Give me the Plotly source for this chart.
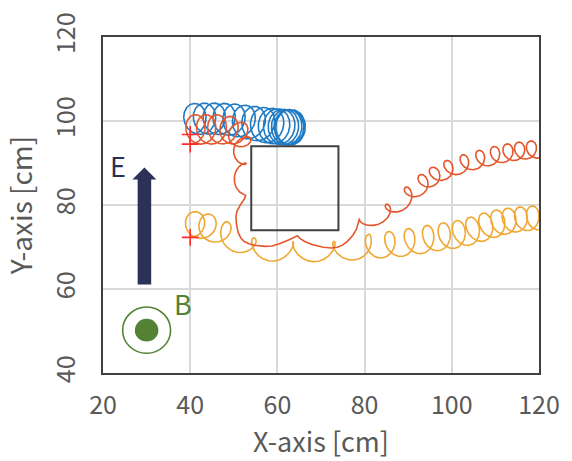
import numpy as np
import plotly.graph_objects as go

# ---------------- data ----------------
# Guiding-centre waypoints [cm] of each trajectory, the gyration radii there
# (rn: across the drift, rt: along the drift) and the number of gyrations
# completed when the guiding centre reaches that waypoint (counted loops/cusps).
blue_gx = [40, 41.1, 45.5, 50, 54.5, 58.6, 61, 62.5, 63.2]
blue_gy = [100.4, 100.5, 100.6, 100.3, 99.5, 98.8, 98.6, 98.5, 98.5]
blue_rn = [3.7, 3.7, 3.7, 3.8, 4.0, 4.2, 4.2, 4.2, 4.2]
blue_rt = [3.1, 3.1, 3.1, 3.1, 3.2, 3.3, 3.3, 3.3, 3.3]
blue_turns = [0, 0.5, 2.5, 4.5, 6.5, 8.5, 10.5, 12.5, 14.5]

red_gx = [40, 41.2, 46.1, 48.9, 51.0, 51.9, 51.5, 51.35, 51.5, 53.0, 57.0, 64.5, 73.5, 79.6,
          86.0, 90.6, 93.8, 96.2, 99.4, 103.1, 106.7, 110.1, 113.0, 115.6, 118.3, 121.0]
red_gy = [98, 98, 98, 97.9, 97.4, 95.5, 90, 82.5, 77.0, 72.6, 71.4, 71.3, 71.2, 75.5,
          78.6, 82.8, 85.6, 87.2, 88.7, 90.0, 91.0, 91.9, 92.5, 92.9, 93.2, 93.3]
red_rn = [3.5, 3.5, 3.5, 3.3, 2.9, 2.2, 1.3, 1.35, 1.5, 1.7, 1.5, 1.5, 1.5, 1.5,
          1.8, 1.9, 2.0, 2.0, 2.05, 2.1, 2.1, 2.1, 2.1, 2.1, 2.1, 2.1]
red_rt = [2.8, 2.8, 2.8, 2.7, 2.5, 2.0, 1.3, 1.3, 2.0, 2.6, 2.7, 2.8, 2.5, 1.7,
          1.7, 1.8, 1.8, 1.8, 1.8, 1.8, 1.8, 1.8, 1.8, 1.8, 1.8, 1.8]
red_turns = [0, 0.5, 2.5, 3.5, 4.5, 5.5, 6.5, 7.5, 7.8, 8.0, 8.15, 8.5, 9.0, 9.5,
             10.5, 11.5, 12.5, 13.5, 14.5, 15.5, 16.5, 17.5, 18.5, 19.5, 20.5, 21.5]

orange_gx = [40, 41, 43.7, 47.3, 50.8, 53.9, 58.6, 63.6, 68.4, 73.2, 77.3, 81.4,
             85.9, 90.5, 94.8, 98.4, 101.8, 105, 108, 110.7, 113.2, 115.9, 118.6, 121.3]
orange_gy = [75.4, 75.4, 74.9, 73.5, 71.4, 69.8, 69.0, 68.9, 68.9, 68.9, 69.5, 70.2,
             70.6, 71.2, 72.0, 72.6, 73.1, 74.0, 75.0, 75.8, 76.3, 76.7, 76.9, 77.0]
orange_rn = [3.1, 3.1, 3.1, 2.9, 2.6, 2.4, 2.4, 2.4, 2.4, 2.4, 2.6, 2.9,
             3.1, 3.2, 3.2, 3.2, 3.2, 3.2, 3.2, 3.1, 3.0, 2.9, 2.9, 2.9]
orange_rt = [2.8, 2.8, 2.8, 2.6, 2.2, 1.9, 1.8, 1.8, 1.8, 1.8, 2.0, 2.1,
             2.2, 2.2, 2.2, 2.2, 2.2, 2.2, 2.2, 2.2, 2.2, 2.1, 2.1, 2.1]
orange_turns = [0, 0.5, 1.5, 2.5, 3.0, 3.5, 4.0, 4.5, 5.0, 5.5, 6.0, 6.5,
                7.5, 8.5, 9.5, 10.5, 11.5, 12.5, 13.5, 14.5, 15.5, 16.5, 17.5, 18.5]

# start positions (red crosses)
start_x = [40, 40, 40]
start_y = [96.8, 94.5, 72.3]

# obstacle (square) and source marker
box_x = [54, 74]
box_y = [74, 94]
B_center = (30, 50.2)
B_ring_r = 5.5
B_dot_r = 2.7

x_ticks = [20, 40, 60, 80, 100, 120]
y_ticks = [40, 60, 80, 100, 120]

# ---------------- build trajectories ----------------
def trajectory(gx, gy, rn, rt, turns, ds=0.01, sigma=0.9):
    gx = np.asarray(gx, float); gy = np.asarray(gy, float)
    seg = np.hypot(np.diff(gx), np.diff(gy))
    sw = np.concatenate([[0.0], np.cumsum(seg)])
    s = np.arange(0.0, sw[-1], ds)
    x = np.interp(s, sw, gx); y = np.interp(s, sw, gy)
    k = int(sigma / ds)
    ker = np.exp(-0.5 * (np.arange(-3 * k, 3 * k + 1) / k) ** 2); ker /= ker.sum()
    xs = np.convolve(np.pad(x, 3 * k, mode='reflect', reflect_type='odd'), ker, 'valid')
    ys = np.convolve(np.pad(y, 3 * k, mode='reflect', reflect_type='odd'), ker, 'valid')
    tx = np.gradient(xs); ty = np.gradient(ys)
    nn = np.hypot(tx, ty); tx /= nn; ty /= nn
    nx, ny = -ty, tx
    Rn = np.interp(s, sw, rn); Rt = np.interp(s, sw, rt)
    th = 2 * np.pi * np.interp(s, sw, turns)
    X = xs + Rt * np.sin(th) * tx - Rn * np.cos(th) * nx
    Y = ys + Rt * np.sin(th) * ty - Rn * np.cos(th) * ny
    return X, Y

bx, by = trajectory(blue_gx, blue_gy, blue_rn, blue_rt, blue_turns)
rx, ry = trajectory(red_gx, red_gy, red_rn, red_rt, red_turns)
ox, oy = trajectory(orange_gx, orange_gy, orange_rn, orange_rt, orange_turns)

BLUE = '#1F7BC4'
RED = '#E4572E'
ORANGE = '#F0A833'
NAVY = '#2B3157'
GREEN = '#548235'
FONT = 'Noto Sans CJK JP'

fig = go.Figure()
fig.add_trace(go.Scatter(x=bx, y=by, mode='lines', line=dict(color=BLUE, width=1.6), hoverinfo='skip'))
fig.add_trace(go.Scatter(x=ox, y=oy, mode='lines', line=dict(color=ORANGE, width=1.6), hoverinfo='skip'))
fig.add_trace(go.Scatter(x=rx, y=ry, mode='lines', line=dict(color=RED, width=1.6), hoverinfo='skip'))
fig.add_trace(go.Scatter(x=start_x, y=start_y, mode='markers',
                         marker=dict(symbol='cross-thin', size=12, line=dict(color='#FF2A2A', width=1.6)),
                         cliponaxis=False, hoverinfo='skip'))

# obstacle square
fig.add_shape(type='rect', xref='x', yref='y', x0=box_x[0], x1=box_x[1], y0=box_y[0], y1=box_y[1],
              line=dict(color='#404040', width=2))

# B marker
cx, cy = B_center
fig.add_shape(type='circle', xref='x', yref='y', x0=cx - B_ring_r, x1=cx + B_ring_r,
              y0=cy - B_ring_r, y1=cy + B_ring_r, line=dict(color=GREEN, width=1.6))
fig.add_shape(type='circle', xref='x', yref='y', x0=cx - B_dot_r, x1=cx + B_dot_r,
              y0=cy - B_dot_r, y1=cy + B_dot_r, line=dict(color=GREEN, width=0), fillcolor=GREEN)

# E arrow
ax_c, a_tail, a_base, a_tip, a_sw, a_hw = 29.5, 61.1, 86.1, 88.9, 1.55, 2.75
path = (f"M {ax_c - a_sw} {a_tail} L {ax_c + a_sw} {a_tail} L {ax_c + a_sw} {a_base} "
        f"L {ax_c + a_hw} {a_base} L {ax_c} {a_tip} L {ax_c - a_hw} {a_base} L {ax_c - a_sw} {a_base} Z")
fig.add_shape(type='path', xref='x', yref='y', path=path, fillcolor=NAVY, line=dict(width=0))

fig.add_annotation(x=23.4, y=89.5, xref='x', yref='y', text='E', showarrow=False,
                   font=dict(family=FONT, size=27, color=NAVY))
fig.add_annotation(x=38.3, y=56.6, xref='x', yref='y', text='B', showarrow=False,
                   font=dict(family=FONT, size=27, color=GREEN))

axis_common = dict(showgrid=True, gridcolor='#D9D9D9', gridwidth=1.5, zeroline=False,
                   showline=True, linecolor='#404040', linewidth=1.5, mirror=True, ticks='',
                   tickfont=dict(family=FONT, size=25, color='#595959'))
fig.update_xaxes(range=[20, 120], tickvals=x_ticks, ticklabelstandoff=9,
                 title=dict(text='X-axis [cm]', font=dict(family=FONT, size=27, color='#595959'), standoff=9),
                 **axis_common)
fig.update_yaxes(range=[40, 120], tickvals=y_ticks, tickangle=-90, ticklabelstandoff=16,
                 title=dict(text='Y-axis [cm]', font=dict(family=FONT, size=28, color='#595959'), standoff=12),
                 **axis_common)
fig.update_layout(width=572, height=461, margin=dict(l=103, r=29, t=28, b=81),
                  plot_bgcolor='white', paper_bgcolor='white', showlegend=False)

fig.write_html('out.html')
